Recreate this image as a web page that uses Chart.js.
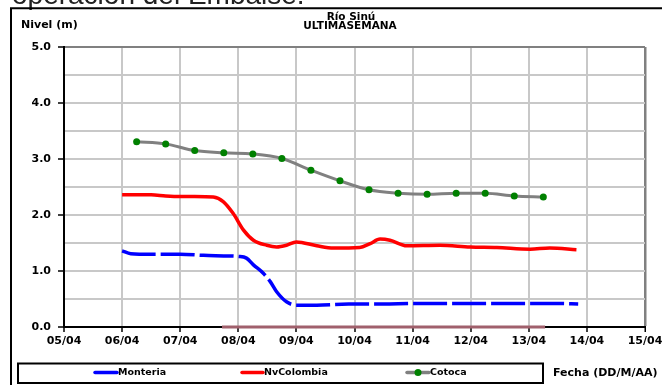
<!DOCTYPE html>
<html>
<head>
<meta charset="utf-8">
<script src="https://cdn.jsdelivr.net/npm/chart.js@4/dist/chart.umd.min.js"></script>
<style>
html,body{margin:0;padding:0;background:#fff;}
canvas{display:block;}
</style>
</head>
<body>
<canvas id="c" width="662" height="385"></canvas>
<script>
// ---- data (days of April as x, level in metres as y) ----
const xTickLabels = ['05/04','06/04','07/04','08/04','09/04','10/04','11/04','12/04','13/04','14/04','15/04'];
const yTickLabels = ['0.0','1.0','2.0','3.0','4.0','5.0'];

const seriesNames = ['Monteria','NvColombia','Cotoca'];

const monteriaDays   = [6.0, 6.15, 6.5, 7.0, 7.4, 7.75, 8.0, 8.14, 8.26, 8.43, 8.55, 8.66, 8.83, 9.0, 9.35, 9.9, 10.5, 11.0, 11.5, 12.0, 12.5, 13.0, 13.5, 13.85];
const monteriaLevels = [1.36, 1.31, 1.30, 1.30, 1.28, 1.27, 1.26, 1.23, 1.11, 0.96, 0.81, 0.63, 0.45, 0.39, 0.39, 0.41, 0.41, 0.42, 0.42, 0.42, 0.42, 0.42, 0.42, 0.41];

const nvDays   = [6.0, 6.5, 6.75, 7.0, 7.25, 7.57, 7.74, 7.91, 8.09, 8.26, 8.49, 8.66, 8.83, 9.0, 9.35, 9.64, 10.09, 10.27, 10.44, 10.61, 10.9, 11.47, 11.99, 12.45, 13.02, 13.36, 13.82];
const nvLevels = [2.36, 2.36, 2.34, 2.33, 2.33, 2.32, 2.24, 2.03, 1.73, 1.55, 1.46, 1.43, 1.46, 1.52, 1.45, 1.41, 1.42, 1.49, 1.57, 1.55, 1.45, 1.46, 1.43, 1.42, 1.39, 1.41, 1.38];

const cotocaDays   = [6.25, 6.75, 7.25, 7.75, 8.25, 8.75, 9.25, 9.75, 10.25, 10.75, 11.25, 11.75, 12.25, 12.75, 13.25];
const cotocaLevels = [3.31, 3.27, 3.15, 3.11, 3.09, 3.01, 2.80, 2.61, 2.45, 2.39, 2.37, 2.39, 2.39, 2.34, 2.32];

const baseDays   = [7.72, 13.28];
const baseLevels = [0, 0];

const toPts = (xs, ys) => xs.map((x, i) => ({x: x, y: ys[i]}));

const FONT = '"DejaVu Sans", sans-serif';

const decor = {
  id: 'decor',
  beforeDraw(chart) {
    const ctx = chart.ctx;
    ctx.save();
    ctx.fillStyle = '#fff';
    ctx.fillRect(0, 0, chart.width, chart.height);
    ctx.restore();
  },
  afterDraw(chart) {
    const ctx = chart.ctx;
    const area = chart.chartArea;
    ctx.save();
    // cut-off heading from the surrounding document
    ctx.fillStyle = '#222';
    ctx.font = '28px "Liberation Sans", Arial, sans-serif';
    ctx.textBaseline = 'alphabetic';
    ctx.textAlign = 'left';
    ctx.fillText('operación del Embalse.', 12, 4);
    // outer frame
    ctx.strokeStyle = '#000';
    ctx.lineWidth = 2;
    ctx.beginPath();
    ctx.moveTo(11, 400); ctx.lineTo(11, 8.3); ctx.lineTo(700, 8.3);
    ctx.stroke();
    // titles
    ctx.fillStyle = '#000';
    ctx.textAlign = 'center';
    ctx.textBaseline = 'middle';
    ctx.font = 'bold 10.5px ' + FONT;
    ctx.fillText('Río Sinú', 351, 17);
    ctx.fillText('ULTIMASEMANA', 350, 26.5);
    ctx.textAlign = 'left';
    ctx.font = 'bold 11px ' + FONT;
    ctx.fillText('Nivel (m)', 21, 25);
    ctx.fillText('Fecha (DD/M/AA)', 553, 373);
    // legend box
    ctx.lineWidth = 2;
    ctx.strokeStyle = '#000';
    ctx.strokeRect(18, 363.5, 525, 19.5);
    const ly = 372.5;
    const items = [
      {x0: 95, x1: 117, ds: chart.data.datasets[0]},
      {x0: 242, x1: 263, ds: chart.data.datasets[1]},
      {x0: 407, x1: 429, ds: chart.data.datasets[2]}
    ];
    ctx.font = 'bold 9.5px ' + FONT;
    items.forEach(it => {
      ctx.strokeStyle = it.ds.borderColor;
      ctx.lineWidth = 3.5;
      ctx.lineCap = 'round';
      ctx.beginPath();
      ctx.moveTo(it.x0, ly); ctx.lineTo(it.x1, ly);
      ctx.stroke();
      if (it.ds.pointRadius > 0) {
        ctx.fillStyle = it.ds.pointBackgroundColor;
        ctx.beginPath();
        ctx.arc((it.x0 + it.x1) / 2, ly, 3.5, 0, Math.PI * 2);
        ctx.fill();
      }
      ctx.fillStyle = '#000';
      ctx.fillText(it.ds.label, it.x1 + 1, ly + 0.5);
    });
    ctx.restore();
  }
};

new Chart(document.getElementById('c'), {
  type: 'line',
  data: {
    datasets: [
      {
        label: seriesNames[0],
        data: toPts(monteriaDays, monteriaLevels),
        borderColor: '#0000ff',
        borderWidth: 3.5,
        borderDash: [34, 5],
        pointRadius: 0,
        cubicInterpolationMode: 'monotone',
        fill: false
      },
      {
        label: seriesNames[1],
        data: toPts(nvDays, nvLevels),
        borderColor: '#ff0000',
        borderWidth: 3.5,
        pointRadius: 0,
        cubicInterpolationMode: 'monotone',
        fill: false
      },
      {
        label: seriesNames[2],
        data: toPts(cotocaDays, cotocaLevels),
        borderColor: '#808080',
        borderWidth: 3,
        pointRadius: 3.5,
        pointBackgroundColor: '#008000',
        pointBorderWidth: 0,
        cubicInterpolationMode: 'monotone',
        fill: false
      },
      {
        label: 'base',
        data: toPts(baseDays, baseLevels),
        borderColor: '#a0606c',
        borderWidth: 3,
        pointRadius: 0,
        clip: 6,
        fill: false
      }
    ]
  },
  options: {
    responsive: false,
    devicePixelRatio: 1,
    animation: false,
    layout: { padding: { top: 47, right: 17, left: 0, bottom: 0 } },
    plugins: { legend: { display: false }, title: { display: false }, tooltip: { enabled: false } },
    scales: {
      x: {
        type: 'linear',
        min: 5, max: 15,
        afterBuildTicks: s => { s.ticks = xTickLabels.map((_, i) => ({value: 5 + i})); },
        afterFit: s => { s.height = 58; s.paddingLeft = 0; s.paddingRight = 0; s.paddingTop = 0; s.paddingBottom = 0; },
        ticks: {
          autoSkip: false, maxRotation: 0, minRotation: 0, padding: 3,
          color: '#000',
          font: { family: FONT, size: 11, weight: 'bold' },
          callback: v => xTickLabels[Math.round(v - 5)]
        },
        grid: {
          color: c => (c.tick && c.tick.value === 15) ? '#808080' : '#c8c8c8',
          lineWidth: c => (c.tick && c.tick.value === 15) ? 2.5 : 2,
          tickColor: '#000', tickLength: 5, tickWidth: 1.5
        },
        border: { display: true, color: '#000', width: 2 }
      },
      y: {
        type: 'linear',
        min: 0, max: 5,
        afterBuildTicks: s => { const t = []; for (let i = 0; i <= 10; i++) t.push({value: i / 2}); s.ticks = t; },
        afterFit: s => { s.width = 64; s.paddingLeft = 0; s.paddingRight = 0; s.paddingTop = 0; s.paddingBottom = 0; },
        ticks: {
          autoSkip: false, padding: 7,
          color: '#000',
          font: { family: FONT, size: 11, weight: 'bold' },
          callback: v => Number.isInteger(v) ? yTickLabels[v] : ''
        },
        grid: {
          color: c => (c.tick && c.tick.value === 5) ? '#808080' : '#c8c8c8',
          lineWidth: 2,
          tickColor: c => (c.tick && Number.isInteger(c.tick.value)) ? '#000' : 'rgba(0,0,0,0)',
          tickLength: 6, tickWidth: 1.5
        },
        border: { display: true, color: '#000', width: 2 }
      }
    }
  },
  plugins: [decor]
});
</script>
</body>
</html>
